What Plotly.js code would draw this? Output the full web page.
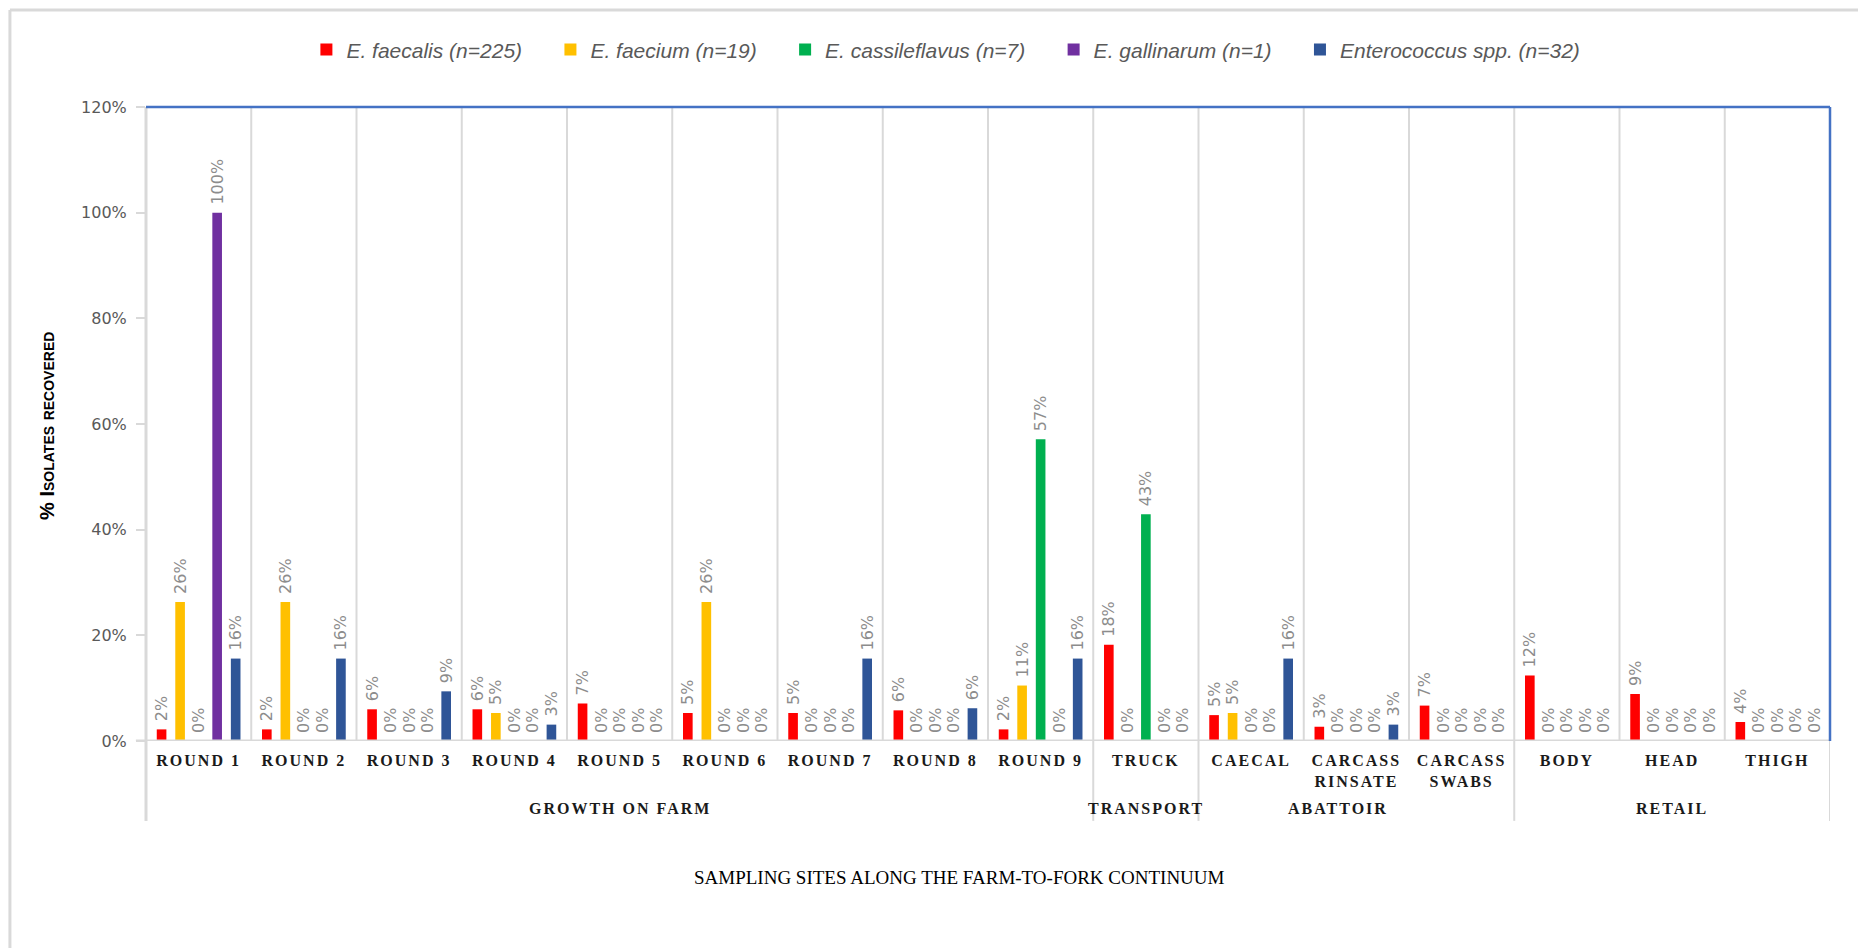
<!DOCTYPE html>
<html>
<head>
<meta charset="utf-8">
<script src="https://cdn.plot.ly/plotly-3.0.1.min.js"></script>
<style>
  html, body { margin: 0; padding: 0; background: #ffffff; }
  #chart { width: 1858px; height: 948px; }
  .xtick text { letter-spacing: 2px; }
  g.annotation[data-index="0"] text,
  g.annotation[data-index="1"] text,
  g.annotation[data-index="2"] text,
  g.annotation[data-index="3"] text { letter-spacing: 2px; }
</style>
</head>
<body>
<div id="chart"></div>
<script>
// ---- data ----
const categories = ['ROUND 1', 'ROUND 2', 'ROUND 3', 'ROUND 4', 'ROUND 5', 'ROUND 6', 'ROUND 7', 'ROUND 8', 'ROUND 9',
  'TRUCK', 'CAECAL', 'CARCASS<br>RINSATE', 'CARCASS<br>SWABS', 'BODY', 'HEAD', 'THIGH'];
const groupLabels = ['GROWTH ON FARM', 'TRANSPORT', 'ABATTOIR', 'RETAIL'];
const groupSizes = [9, 1, 3, 3];
const seriesNames = ['E. faecalis (n=225)', 'E. faecium (n=19)', 'E. cassileflavus (n=7)', 'E. gallinarum (n=1)', 'Enterococcus spp. (n=32)'];
const faecalis    = [2.2, 2.2, 6.0, 6.0, 7.1, 5.3, 5.3, 5.8, 2.2, 18.2, 4.9, 2.7, 6.7, 12.4, 8.9, 3.6];
const faecium     = [26.3, 26.3, 0, 5.3, 0, 26.3, 0, 0, 10.5, 0, 5.3, 0, 0, 0, 0, 0];
const cassileflavus = [0, 0, 0, 0, 0, 0, 0, 0, 57.1, 42.9, 0, 0, 0, 0, 0, 0];
const gallinarum  = [100, 0, 0, 0, 0, 0, 0, 0, 0, 0, 0, 0, 0, 0, 0, 0];
const sppValues   = [15.6, 15.6, 9.4, 3.1, 0, 0, 15.6, 6.2, 15.6, 0, 15.6, 3.1, 0, 0, 0, 0];
const seriesColors = ['#ff0000', '#ffc000', '#00b050', '#7030a0', '#2f5597'];
const yTickVals = [0, 20, 40, 60, 80, 100, 120];
const xTitle = 'SAMPLING SITES ALONG THE FARM-TO-FORK CONTINUUM';
const yTitle = '% Isolates recovered';

// ---- styles ----
const sans = '"Liberation Sans", Arial, sans-serif';
const serif = '"Liberation Serif", "DejaVu Serif", serif';
const gridGray = '#d9d9d9';
const borderBlue = '#4472c4';

const allSeries = [faecalis, faecium, cassileflavus, gallinarum, sppValues];
const traces = allSeries.map((vals, i) => ({
  type: 'bar',
  // trailing non-breaking spaces only widen the gap between legend entries
  name: seriesNames[i] + (i < allSeries.length - 1 ? '\u00a0\u00a0\u00a0\u00a0' : ''),
  x: categories,
  y: vals,
  marker: { color: seriesColors[i] },
  texttemplate: '\u00a0%{y:.0f}%',
  textposition: 'outside',
  textangle: -90,
  constraintext: 'none',
  cliponaxis: false,
  textfont: { family: '"DejaVu Sans", sans-serif', size: 16, color: '#8c8c8c' },
  hoverinfo: 'skip'
}));

const n = categories.length;
const shapes = [];
// inner category dividers
for (let i = 0; i < n - 1; i++) {
  shapes.push({ type: 'line', xref: 'x', yref: 'paper', x0: i + 0.5, x1: i + 0.5, y0: 0, y1: 1,
    line: { color: gridGray, width: 2 }, layer: 'below' });
}
// group dividers extending below the axis
let acc = 0;
const groupCenters = [];
groupSizes.forEach((s) => {
  groupCenters.push(acc + (s - 1) / 2);
  acc += s;
  shapes.push({ type: 'line', xref: 'x', yref: 'paper', x0: acc - 0.5, x1: acc - 0.5, y0: -0.126, y1: 0,
    line: { color: gridGray, width: 2 } });
});
// left axis line
shapes.push({ type: 'line', xref: 'paper', yref: 'paper', x0: 0, x1: 0, y0: -0.126, y1: 1,
  line: { color: gridGray, width: 3 } });
// zero axis line
shapes.push({ type: 'line', xref: 'paper', yref: 'y', x0: -0.006, x1: 1, y0: 0, y1: 0,
  line: { color: gridGray, width: 3 } });
// blue top and right plot border
shapes.push({ type: 'line', xref: 'paper', yref: 'paper', x0: 0, x1: 1, y0: 1, y1: 1,
  line: { color: borderBlue, width: 2.5 } });
shapes.push({ type: 'line', xref: 'paper', yref: 'paper', x0: 1, x1: 1, y0: 0, y1: 1,
  line: { color: borderBlue, width: 2.5 } });
// outer chart frame (left and top edges)
shapes.push({ type: 'line', xref: 'paper', yref: 'paper', x0: -0.0808, x1: -0.0808, y0: -0.33, y1: 1.153,
  line: { color: gridGray, width: 3 } });
shapes.push({ type: 'line', xref: 'paper', yref: 'paper', x0: -0.0808, x1: 1.02, y0: 1.153, y1: 1.153,
  line: { color: gridGray, width: 3 } });

const annotations = [];
groupLabels.forEach((g, i) => {
  annotations.push({ text: g, xref: 'x', yref: 'paper', x: groupCenters[i] - (g === 'ABATTOIR' ? 0.17 : 0), y: -0.107,
    showarrow: false, xanchor: 'center', yanchor: 'middle',
    font: { family: serif, size: 16, color: '#1a1a1a', weight: 'bold' } });
});
annotations.push({ text: xTitle, xref: 'paper', yref: 'paper', x: 0.483, y: -0.216, showarrow: false,
  xanchor: 'center', yanchor: 'middle', font: { family: serif, size: 19, color: '#000000' } });
annotations.push({ text: yTitle, xref: 'paper', yref: 'paper', x: -0.0588, y: 0.497, showarrow: false,
  textangle: -90, xanchor: 'center', yanchor: 'middle',
  font: { family: sans, size: 20, color: '#000000', weight: 'bold', variant: 'small-caps' } });

const layout = {
  width: 1858, height: 948,
  paper_bgcolor: '#ffffff', plot_bgcolor: '#ffffff',
  margin: { l: 146, r: 28, t: 107, b: 207 },
  barmode: 'group',
  bargap: 0.12,
  bargroupgap: 0.48,
  showlegend: true,
  legend: { orientation: 'h', x: 0.475, xanchor: 'center', y: 1.09, yanchor: 'middle',
    font: { family: sans, size: 21, color: '#595959', style: 'italic' },
    itemwidth: 30, tracegroupgap: 0 },
  xaxis: {
    type: 'category', range: [-0.5, n - 0.5], showgrid: false, zeroline: false, showline: false,
    ticks: '', tickfont: { family: serif, size: 16, color: '#1a1a1a', weight: 'bold' },
    ticklabelstandoff: 8, fixedrange: true
  },
  yaxis: {
    range: [0, 120], tickvals: yTickVals, ticktext: yTickVals.map(v => v + '%'),
    showgrid: false, zeroline: false, showline: false,
    ticks: 'outside', ticklen: 9, tickwidth: 2, tickcolor: gridGray,
    tickfont: { family: '"DejaVu Sans", sans-serif', size: 16, color: '#595959' },
    ticklabelstandoff: 6, fixedrange: true
  },
  shapes: shapes,
  annotations: annotations
};

Plotly.newPlot('chart', traces, layout, { displayModeBar: false, staticPlot: true });
</script>
</body>
</html>
